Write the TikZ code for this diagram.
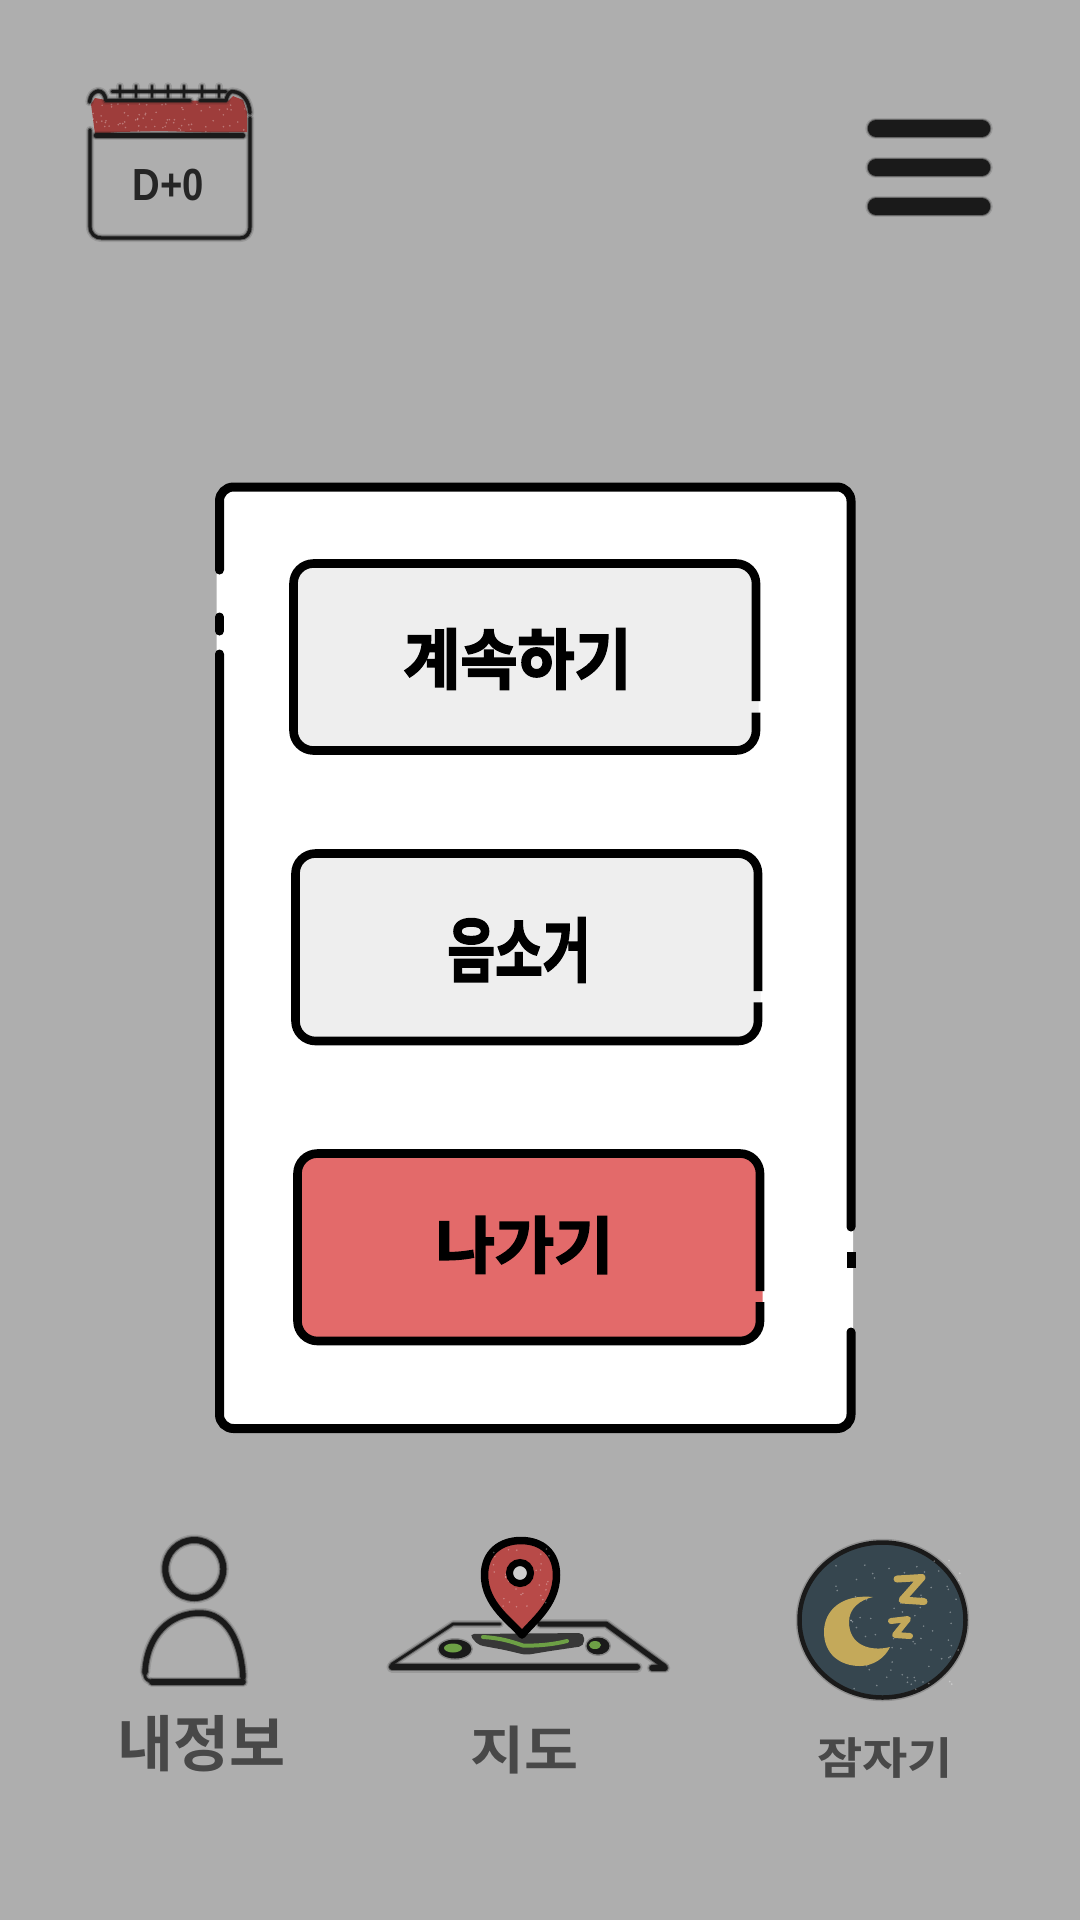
\documentclass[tikz,border=0pt]{standalone}
\usepackage{fontspec}
\newfontfamily\krb[FakeBold=2.6]{Noto Sans CJK KR Bold}
\newfontfamily\krm{Noto Sans CJK KR Bold}
\newfontfamily\dfont{Liberation Sans Bold}
\definecolor{bg}{HTML}{AEAEAE}
\definecolor{btn}{HTML}{EEEEEE}
\definecolor{exitred}{HTML}{E36A6A}
\definecolor{calred}{HTML}{9E3D3B}
\definecolor{pinred}{HTML}{B84A48}
\definecolor{night}{HTML}{36464F}
\definecolor{moon}{HTML}{C4A95A}
\definecolor{leaf}{HTML}{6DA045}
\definecolor{ink}{HTML}{1A1A1A}
\definecolor{labelink}{HTML}{484848}
\newcommand{\softdraw}[3][ink]{%
  \draw[#1,line width=#2+5pt,opacity=.14,line cap=round,line join=round] #3;
  \draw[#1,line width=#2+2pt,opacity=.4,line cap=round,line join=round] #3;
  \draw[#1,line width=#2,line cap=round,line join=round] #3;}
\newcommand{\speckle}[6]{%
  \foreach \i in {1,...,#5}{%
    \pgfmathsetmacro{\sx}{#1+rnd*(#3-#1)}%
    \pgfmathsetmacro{\sy}{#2+rnd*(#4-#2)}%
    \fill[white,opacity=#6] (\sx,\sy) circle (0.9);}}
\tikzset{
  panelline/.style={black,line width=9pt,line cap=round,rounded corners=14pt},
  btnline/.style={black,line width=8.6pt,line cap=butt,rounded corners=20pt},
  btnlabel/.style={font=\krb\fontsize{#1}{#1}\selectfont,text=black,inner sep=0pt,transform shape},
  tablabel/.style={font=\krm\fontsize{#1}{#1}\selectfont,text=labelink,inner sep=0pt,transform shape},
}
\begin{document}
\begin{tikzpicture}[x=1pt,y=-1pt]
\pgfmathsetseed{4242}
\fill[bg] (0,0) rectangle (1080,1920);
\useasboundingbox (0,0) rectangle (1080,1920);

% calendar
\softdraw{3.2pt}{(90,130) -- (90,226) .. controls (90,234) and (95,238) .. (102,238) -- (240,238) .. controls (246,238) and (250,234) .. (250,226) -- (250,118)}
\fill[calred] (91,104) -- (95,98) -- (106,100) -- (228,101) -- (233,96) -- (243,100) -- (247,112) -- (247,132) -- (210,132.5) -- (160,131) -- (120,132) -- (95,134) -- cycle;
\speckle{93}{104}{245}{132}{70}{.3}
\softdraw{3.4pt}{(250,113) .. controls (249,101) and (243,92) .. (232,91.5) .. controls (229,92) and (227,96) .. (226,100.5) -- (200,100.5)}
\softdraw{3.4pt}{(190,100.5) -- (106,100.5) .. controls (105,94) and (102,91) .. (98,91) .. controls (93,92) and (90,96) .. (89.5,102)}
\softdraw{4.4pt}{(96,135.6) -- (243,135.6)}
\softdraw{2.4pt}{(112,91.5) -- (226,91.5)}
\foreach \tx in {120,136,152,168,184,202,219}{
  \softdraw{2.4pt}{(\tx,86) -- (\tx,97)}
}
\node[font=\dfont\fontsize{45}{45}\selectfont,text=ink!95,inner sep=0pt,xscale=.85,transform shape] (dday) at (168.5,185) {D+0};

% menu
\foreach \my in {128.5,167.5,206.5}{
  \softdraw{16.5pt}{(876,\my) -- (982,\my)}
}

% modal panel
\fill[white,rounded corners=15pt] (216.5,484) rectangle (853,1431);
\draw[panelline] (219.5,570) -- (219.5,487) -- (851,487) -- (851,1227);
\draw[panelline,rounded corners=0pt,line cap=butt] (851,1252) -- (851,1268);
\draw[panelline] (851,1332) -- (851,1428.5) -- (219.5,1428.5) -- (219.5,654);
\draw[panelline,rounded corners=0pt] (219.5,617) -- (219.5,631);

% button 1
\fill[btn,rounded corners=20pt] (293.5,563.5) rectangle (758.5,750.5);
\draw[btnline] (756,701) -- (756,563.5) -- (293.5,563.5) -- (293.5,750.5) -- (756,750.5) -- (756,712.7);
\node[btnlabel=62,yscale=1.06] (resume) at (517.5,659) {계속하기};

% button 2
\fill[btn,rounded corners=20pt] (295.5,853.5) rectangle (760.5,1041);
\draw[btnline] (758,991) -- (758,853.5) -- (295.5,853.5) -- (295.5,1041) -- (758,1041) -- (758,1002.3);
\node[btnlabel=54,xscale=.96,yscale=1.3] (mute) at (519,950) {음소거};

% button 3
\fill[exitred,rounded corners=20pt] (297.5,1153.5) rectangle (762.5,1341);
\draw[btnline] (760,1291) -- (760,1153.5) -- (297.5,1153.5) -- (297.5,1341) -- (760,1341) -- (760,1302);
\node[btnlabel=62,xscale=1.04] (quit) at (524.5,1245) {나가기};

% person
\softdraw{6pt}{(194.3,1569) ellipse (29 and 29)}
\softdraw{2.6pt}{(150,1681) .. controls (146,1680) and (144,1677) .. (145,1672)}
\softdraw{5.5pt}{(145,1672) .. controls (147,1635) and (170,1613) .. (200,1613) .. controls (226,1613) and (241,1640) .. (243,1677)}
\softdraw{5.5pt}{(152,1682) -- (243,1682)}
\node[tablabel=61] (myinfo) at (201.5,1744) {내정보};

% map
\softdraw{2.6pt}{(392,1664) -- (453,1624) -- (500,1624)}
\softdraw{5pt}{(540,1624) -- (606,1624) -- (664,1666)}
\softdraw{6pt}{(392,1667) -- (637,1667)}
\softdraw{5.5pt}{(652,1668) -- (665,1668)}
\fill[ink,opacity=.8,rounded corners=5pt] (469,1634) -- (584,1633) -- (584,1646) -- (550,1651) -- (526,1655) -- (505,1650) -- (478,1645) -- cycle;
\draw[leaf,line width=4pt,line cap=round] (483,1637) .. controls (500,1638) and (510,1641) .. (523,1645.5) .. controls (540,1646) and (555,1644) .. (567,1641);
\fill[ink,opacity=.25] (455,1649) ellipse (18 and 11);
\fill[ink] (455,1649) ellipse (16.5 and 9.5);
\fill[leaf] (453,1648) ellipse (9 and 4.5);
\fill[ink,opacity=.25] (598,1646) ellipse (13 and 10);
\fill[ink] (598,1646) ellipse (11.5 and 8.5);
\fill[leaf] (595,1645) ellipse (6 and 4);
\filldraw[draw=black,fill=pinred,line width=7.5pt,line join=round] (522,1635) .. controls (512,1622) and (484.5,1605) .. (484.5,1575) .. controls (484.5,1553) and (500,1540.5) .. (521,1540.5) .. controls (542,1540.5) and (556.5,1553) .. (556.5,1575) .. controls (556.5,1605) and (532,1622) .. (522,1635) -- cycle;
\speckle{492}{1548}{550}{1612}{35}{.3}
\filldraw[draw=black,fill=bg!60!white,line width=7pt] (520,1573) circle (10.5);
\node[tablabel=52,xscale=1.13] (maplabel) at (524.5,1750) {지도};

% sleep
\draw[ink,opacity=.2,line width=7.5pt] (882.5,1620) ellipse (83 and 77.5);
\filldraw[draw=ink,fill=night,line width=4.5pt] (882.5,1620) ellipse (83 and 77.5);
\speckle{830}{1560}{960}{1690}{90}{.35}
\fill[moon] (873,1597) .. controls (842,1594) and (824,1610) .. (824,1632) .. controls (824,1654) and (840,1666) .. (860,1666) .. controls (873,1666) and (885,1658) .. (890,1647) .. controls (870,1652) and (849,1645) .. (849,1622) .. controls (849,1608) and (860,1600) .. (873,1597) -- cycle;
\draw[moon,line width=7pt,line join=round,line cap=round] (897,1579) -- (922,1577.5) -- (902,1600) -- (924,1601.5);
\draw[moon,line width=6pt,line join=round,line cap=round] (891,1621) -- (908,1619) -- (895,1635) -- (910,1636);
\node[tablabel=44,xscale=1.12] (sleeplabel) at (885,1758) {잠자기};
\end{tikzpicture}
\end{document}
